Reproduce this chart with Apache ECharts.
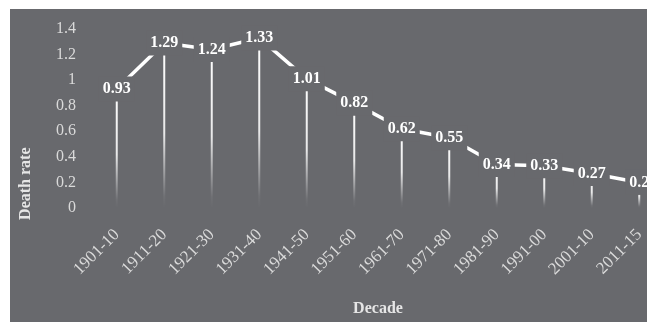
<!DOCTYPE html>
<html>
<head>
<meta charset="utf-8">
<script src="https://cdn.jsdelivr.net/npm/echarts@6/dist/echarts.min.js"></script>
<style>
html,body{margin:0;padding:0;background:#ffffff;width:647px;height:322px;overflow:hidden;}
#wrap{position:absolute;left:10px;top:9px;width:637px;height:313px;overflow:hidden;}
#chart{position:absolute;left:0;top:0;width:653px;height:313px;}
</style>
</head>
<body>
<div id="wrap"><div id="chart"></div></div>
<script>
const categories = ['1901-10','1911-20','1921-30','1931-40','1941-50','1951-60','1961-70','1971-80','1981-90','1991-00','2001-10','2011-15'];
const deathRate = [0.93, 1.29, 1.24, 1.33, 1.01, 0.82, 0.62, 0.55, 0.34, 0.33, 0.27, 0.2];
const yMin = 0, yMax = 1.4, yStep = 0.2;
const xTitle = 'Decade';
const yTitle = 'Death rate';

const BG = '#68696d';
const chart = echarts.init(document.getElementById('chart'), null, {renderer:'canvas'});
chart.setOption({
  backgroundColor: BG,
  animation: false,
  grid: {left: 83, right: 0, top: 20, bottom: 109, containLabel: false},
  xAxis: {
    type: 'category',
    data: categories,
    boundaryGap: true,
    axisLine: {show: false},
    axisTick: {show: false},
    axisLabel: {rotate: 45, margin: 24, color: '#dadada', fontFamily: 'Liberation Serif', fontSize: 17, interval: 0},
    name: xTitle,
    nameLocation: 'middle',
    nameGap: 93,
    nameTextStyle: {color: '#e6e6e6', fontFamily: 'Liberation Serif', fontSize: 16, fontWeight: 'bold'}
  },
  yAxis: {
    type: 'value',
    min: yMin, max: yMax, interval: yStep,
    axisLine: {show: false},
    axisTick: {show: false},
    splitLine: {show: false},
    axisLabel: {margin: 17, color: '#dadada', fontFamily: 'Liberation Serif', fontSize: 16}
  },
  graphic: [{
    type: 'text',
    left: 8, top: 138.5,
    rotation: Math.PI/2,
    style: {text: yTitle, fill: '#e6e6e6', font: 'bold 16px "Liberation Serif"'}
  }],
  series: [
    {
      type: 'bar',
      z: 2,
      data: deathRate,
      barWidth: 2,
      itemStyle: {
        color: new echarts.graphic.LinearGradient(0,0,0,1,[
          {offset:0, color:'rgba(255,255,255,1)'},
          {offset:0.55, color:'rgba(255,255,255,0.85)'},
          {offset:0.93, color:'rgba(255,255,255,0.05)'},
          {offset:1, color:'rgba(255,255,255,0)'}
        ])
      }
    },
    {
      type: 'line',
      z: 3,
      data: deathRate,
      symbol: 'circle',
      symbolSize: 2,
      showAllSymbol: true,
      lineStyle: {color: '#ffffff', width: 3.5},
      itemStyle: {color: '#ffffff'},
      label: {
        show: true,
        position: 'inside',
        color: '#ffffff',
        fontFamily: 'Liberation Serif',
        fontSize: 16,
        fontWeight: 'bold',
        backgroundColor: BG,
        padding: [5, 4, 4, 4]
      }
    }
  ]
});
</script>
</body>
</html>
